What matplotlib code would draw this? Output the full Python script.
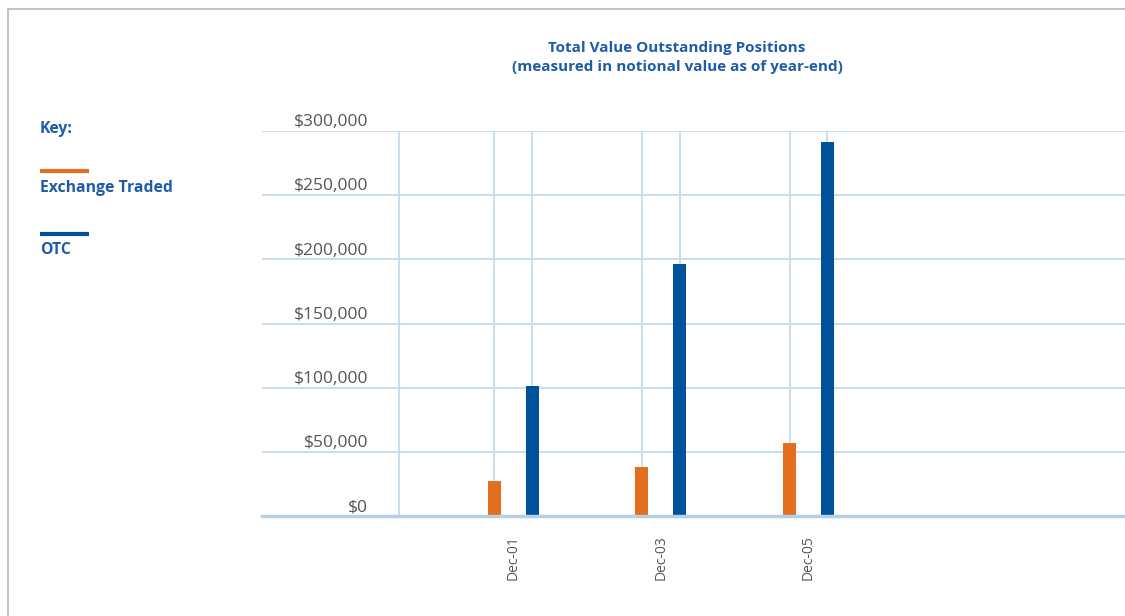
import matplotlib.pyplot as plt
from matplotlib.lines import Line2D
import numpy as np

# Data (values in $)
categories = ['Dec-01', 'Dec-03', 'Dec-05']
exchangeTraded = [27500, 38400, 57100]
otc = [101600, 196400, 291400]
yTicks = [0, 50000, 100000, 150000, 200000, 250000, 300000]
yTickLabels = ['$' + format(v, ',') for v in yTicks]

title = 'Total Value Outstanding Positions\n(measured in notional value as of year-end)'
legendLabels = ['Exchange Traded', 'OTC']

# Styles
orange = '#e36f1e'
blue = '#00529c'
textBlue = '#1f5ca8'
gridColor = '#c6dbee'
axisColor = '#b5cfe7'
labelGray = '#555555'
barWidth = 0.088
barOffset = 0.128
font = 'Open Sans'

W, H = 1125, 616
fig = plt.figure(figsize=(W / 100, H / 100), dpi=100)
ax = fig.add_axes([262 / W, (H - 516) / H, (W - 262) / W, (516 - 131) / H])

x = np.arange(len(categories))
xEx = x - barOffset
xOtc = x + barOffset

# grid lines
for v in yTicks[1:]:
    ax.axhline(v, color=gridColor, linewidth=1.3, zorder=0)
ax.axvline(-0.774, color=gridColor, linewidth=1.3, zorder=0)
ax.vlines(np.concatenate([xEx, xOtc]), 0, yTicks[-1], color=gridColor, linewidth=1.3, zorder=0)

ax.bar(xEx, exchangeTraded, width=barWidth, color=orange, zorder=2)
ax.bar(xOtc, otc, width=barWidth, color=blue, zorder=2)

ax.set_xlim(-1.702, 4.145)
ax.set_ylim(0, yTicks[-1])

for s in ['top', 'right', 'left']:
    ax.spines[s].set_visible(False)
ax.spines['bottom'].set_color(axisColor)
ax.spines['bottom'].set_linewidth(2.5)

ax.set_yticks([])
ax.set_xticks(x)
ax.set_xticklabels(categories, rotation=90, fontsize=10, color=labelGray, family=font)
ax.tick_params(axis='x', length=0, pad=14)

# y labels sit above their grid lines
for v, lab in zip(yTicks, yTickLabels):
    ax.annotate(lab, xy=(0.1228, v), xycoords=ax.get_yaxis_transform(),
                xytext=(0, 0.5), textcoords='offset points',
                ha='right', va='bottom', fontsize=12.5, color=labelGray, family=font)

# title
fig.text(677 / W, 1 - 57.5 / H, title, ha='center', va='center', fontsize=11,
         fontweight='bold', color=textBlue, family=font, linespacing=1.4)

# key
fig.text(40 / W, 1 - 129 / H, 'Key:', ha='left', va='center', fontsize=11.3,
         fontweight='bold', color=textBlue, family=font)
for col, lab, ly, ty in zip([orange, blue], legendLabels, [171, 234], [188, 250]):
    fig.add_artist(Line2D([40 / W, 89 / W], [1 - ly / H, 1 - ly / H], color=col,
                          linewidth=3, solid_capstyle='butt'))
    fig.text(40 / W, 1 - ty / H, lab, ha='left', va='center', fontsize=11.3,
             fontweight='bold', color=textBlue, family=font)

# frame lines along top and left
fig.add_artist(Line2D([7.5 / W, 1], [1 - 8.5 / H, 1 - 8.5 / H], color='#c4c4c4', linewidth=1.5))
fig.add_artist(Line2D([7.5 / W, 7.5 / W], [0, 1 - 8.5 / H], color='#c4c4c4', linewidth=1.5))

fig.savefig('out.png', dpi=100)
